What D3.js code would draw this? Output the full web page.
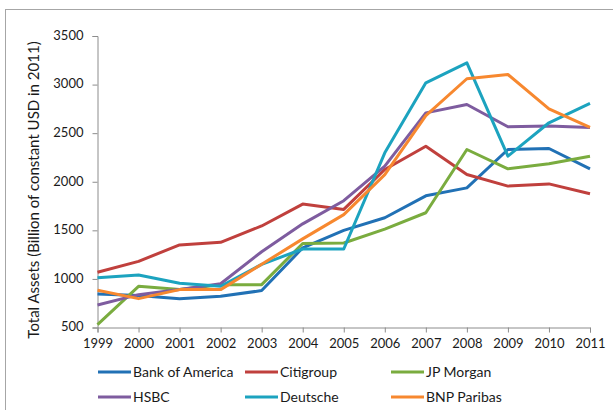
<!DOCTYPE html>
<html>
<head>
<meta charset="utf-8">
<script src="https://cdn.jsdelivr.net/npm/d3@7"></script>
<style>
  body { margin: 0; background: #fff; }
  text { font-family: Lato, "Open Sans", sans-serif; fill: #1a1a1a; }
</style>
</head>
<body>
<svg id="chart" width="613" height="410"></svg>
<script>
// years on the x axis
const years = ["1999","2000","2001","2002","2003","2004","2005","2006","2007","2008","2009","2010","2011"];
const yTicks = [500, 1000, 1500, 2000, 2500, 3000, 3500];

// total assets, billion of constant USD (2011)
const bankOfAmerica = [845, 830, 797, 821, 880, 1320, 1500, 1630, 1855, 1937, 2332, 2342, 2133];
const citigroup     = [1068, 1181, 1350, 1377, 1545, 1770, 1715, 2126, 2365, 2074, 1955, 1978, 1876];
const jpMorgan      = [530, 924, 890, 941, 941, 1365, 1370, 1513, 1681, 2332, 2133, 2185, 2263];
const hsbc          = [732, 838, 890, 950, 1280, 1567, 1805, 2160, 2709, 2795, 2566, 2573, 2559];
const deutsche      = [1013, 1041, 955, 925, 1150, 1308, 1308, 2298, 3018, 3224, 2263, 2607, 2806];
const bnpParibas    = [883, 797, 890, 890, 1150, 1412, 1662, 2074, 2681, 3060, 3104, 2751, 2559];

const banks = ["Bank of America", "Citigroup", "JP Morgan", "HSBC", "Deutsche", "BNP Paribas"];
const colors = ["#2171b5", "#c0403d", "#7aac3f", "#7e5c9f", "#1ca3bf", "#f7882f"];
const allSeries = [bankOfAmerica, citigroup, jpMorgan, hsbc, deutsche, bnpParibas];

const svg = d3.select("#chart");

// outer frame of the chart area (runs off the right and bottom)
svg.append("rect")
  .attr("x", 5.5).attr("y", 9.5)
  .attr("width", 640).attr("height", 440)
  .attr("fill", "none")
  .attr("stroke", "#a6a6a6");

const x = d3.scalePoint().domain(years).range([97.5, 590]);
const y = d3.scaleLinear().domain([500, 3500]).range([327.5, 36]);

// y axis
const yAxis = svg.append("g")
  .attr("transform", "translate(97.5,0)")
  .call(d3.axisLeft(y).tickValues(yTicks).tickFormat(d3.format("d")).tickSize(5).tickPadding(9));

// x axis
const xAxis = svg.append("g")
  .attr("transform", "translate(0,327.5)")
  .call(d3.axisBottom(x).tickSize(5).tickPadding(6));

[xAxis, yAxis].forEach(ax => {
  ax.select(".domain").attr("stroke", "#8c8c8c");
  ax.selectAll(".tick line").attr("stroke", "#8c8c8c");
  ax.selectAll("text").style("font-size", "13px").style("font-family", "Lato, sans-serif").attr("fill", "#1a1a1a");
});
yAxis.selectAll(".tick text").attr("dy", "0.25em");

// axis title
svg.append("text")
  .attr("transform", "translate(39,190) rotate(-90)")
  .attr("text-anchor", "middle")
  .style("font-size", "15px")
  .text("Total Assets (Billion of constant USD in 2011)");

const line = d3.line()
  .x((d, i) => x(years[i]))
  .y(d => y(d));

svg.append("g")
  .selectAll("path")
  .data(allSeries)
  .enter()
  .append("path")
  .attr("d", line)
  .attr("fill", "none")
  .attr("stroke", (d, i) => colors[i])
  .attr("stroke-width", 3)
  .attr("stroke-linejoin", "round");

// legend, 3 columns x 2 rows
const legX = [98, 245, 391];
const legY = [372, 397];

const leg = svg.append("g")
  .selectAll("g")
  .data(banks)
  .enter()
  .append("g")
  .attr("transform", (d, i) => `translate(${legX[i % 3]},${legY[Math.floor(i / 3)]})`);

leg.append("line")
  .attr("x1", 0).attr("x2", 33)
  .attr("y1", 0).attr("y2", 0)
  .attr("stroke", (d, i) => colors[i])
  .attr("stroke-width", 3);

leg.append("text")
  .attr("x", 35)
  .attr("y", 5)
  .style("font-size", "14px")
  .text(d => d);
</script>
</body>
</html>
